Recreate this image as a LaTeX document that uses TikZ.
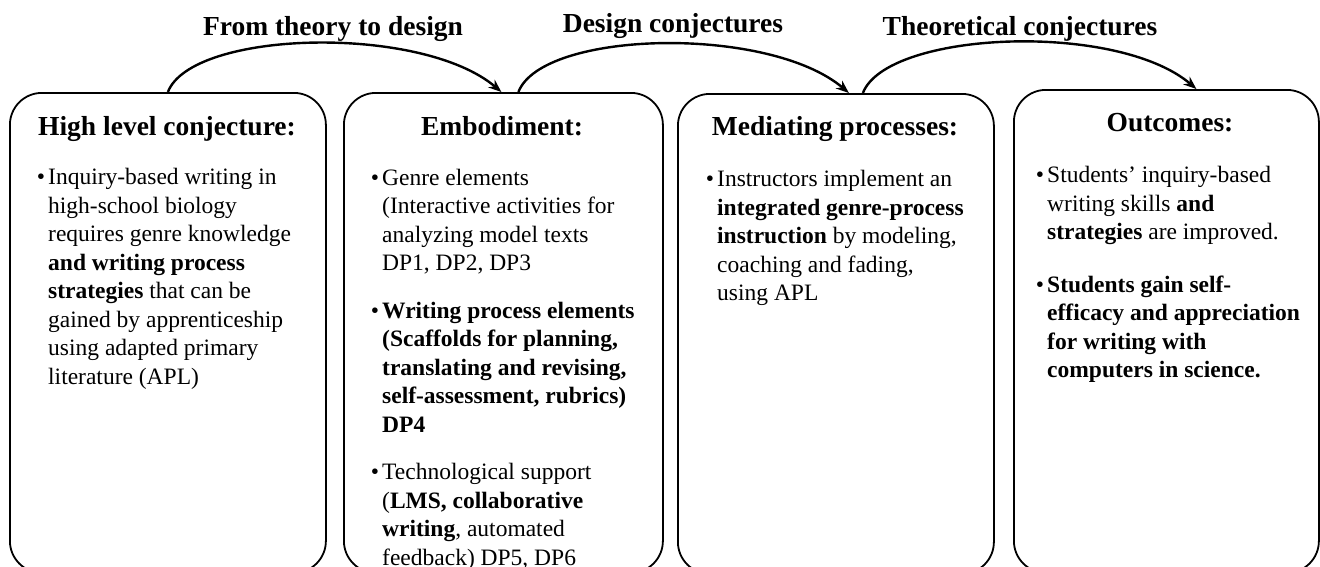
\documentclass[tikz,border=0pt]{standalone}
\usepackage{fontspec}
\setmainfont{Liberation Serif}
\usetikzlibrary{arrows.meta}
\newcommand{\bul}{\llap{\textbullet\hspace{3pt}}}
\begin{document}
\begin{tikzpicture}[x=1pt,y=-1pt,
  box/.style={draw=black, line width=1.8pt, rounded corners=32pt, anchor=north west,
    inner sep=0pt, minimum height=480pt},
  link/.style={line width=2.4pt, -{Stealth[length=13pt,width=10pt]}},
  head/.style={font=\fontsize{27.5}{33}\selectfont\bfseries, anchor=base, inner sep=0pt},
  body/.style={font=\fontsize{23.5}{28.5}\selectfont, anchor=base west, inner sep=0pt}]
\useasboundingbox (0,0) rectangle (1320,566);

% the four stages
\node[box, minimum width=316pt] (b1) at (9,92) {};
\node[box, minimum width=319pt] (b2) at (343,92) {};
\node[box, minimum width=316pt] (b3) at (677,93) {};
\node[box, minimum width=305pt, minimum height=483pt] (b4) at (1013,89) {};

% stage titles
\node[head] (h1) at (167,135) {High level conjecture:};
\node[head] (h2) at (502,135) {Embodiment:};
\node[head] (h3) at (835,135) {Mediating processes:};
\node[head] (h4) at (1170,131) {Outcomes:};

% stage contents
\node[body] (t1) at (48,184.5) {\begin{tabular}[t]{@{}l@{}}
\bul Inquiry-based writing in\\
high-school biology\\
requires genre knowledge\\
\textbf{and writing process}\\
\textbf{strategies} that can be\\
gained by apprenticeship\\
using adapted primary\\
literature (APL)
\end{tabular}};

\node[body] (t2) at (382,185) {\begin{tabular}[t]{@{}l@{}}
\bul Genre elements\\
(Interactive activities for\\
analyzing model texts\\
DP1, DP2, DP3\\[19pt]
\bul\textbf{Writing process elements}\\
\textbf{(Scaffolds for planning,}\\
\textbf{translating and revising,}\\
\textbf{self-assessment, rubrics)}\\
\textbf{DP4}\\[19pt]
\bul Technological support\\
(\textbf{LMS, collaborative}\\
\textbf{writing}, automated\\
feedback) DP5, DP6
\end{tabular}};

\node[body] (t3) at (717,186.5) {\begin{tabular}[t]{@{}l@{}}
\bul Instructors implement an\\
\textbf{integrated genre-process}\\
\textbf{instruction} by modeling,\\
coaching and fading,\\
using APL
\end{tabular}};

\node[body] (t4) at (1047,182.5) {\begin{tabular}[t]{@{}l@{}}
\bul Students’ inquiry-based\\
writing skills \textbf{and}\\
\textbf{strategies} are improved.\\[24pt]
\bul\textbf{Students gain self-}\\
\textbf{efficacy and appreciation}\\
\textbf{for writing with}\\
\textbf{computers in science.}
\end{tabular}};

% transitions between stages
\draw[link] (b1.north) .. controls +(24,-62) and +(-80,-68) .. ([xshift=-2pt]b2.north);
\draw[link] ([xshift=15pt]b2.north) .. controls +(24,-62) and +(-80,-68) .. ([xshift=13pt]b3.north);
\draw[link] ([xshift=27pt]b3.north) .. controls +(24,-62) and +(-80,-68) .. ([xshift=30pt]b4.north);

% transition labels
\node[head] (l1) at (333,35) {From theory to design};
\node[head] (l2) at (673,32) {Design conjectures};
\node[head] (l3) at (1020,35) {Theoretical conjectures};
\end{tikzpicture}
\end{document}
